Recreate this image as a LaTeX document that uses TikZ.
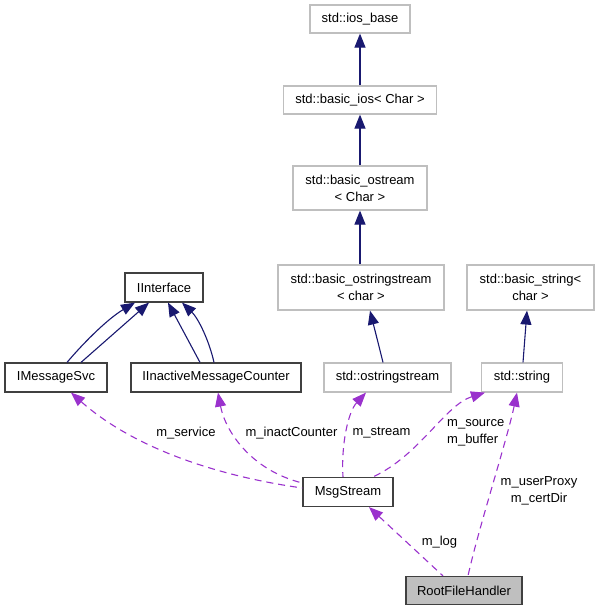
\documentclass[tikz,border=0pt]{standalone}
\usepackage{fontspec}
\setmainfont{Liberation Sans}
\usetikzlibrary{arrows.meta,calc}
\definecolor{edgeblue}{HTML}{191970}
\definecolor{usepurple}{HTML}{9A32CD}
\definecolor{greyb}{HTML}{BFBFBF}
\definecolor{darkb}{HTML}{404040}
\begin{document}
\begin{tikzpicture}[x=1pt,y=-1pt,
  font=\fontsize{13}{17}\selectfont,
  cls/.style={draw, line width=1.2pt, inner sep=0pt, align=center, text=black},
  ext/.style={cls, draw=greyb},
  doc/.style={cls, draw=darkb},
  inh/.style={draw=edgeblue, line width=1.1pt, -{Triangle[length=14pt,width=11pt]}},
  uses/.style={draw=usepurple, line width=1.1pt, dash pattern=on 7pt off 5pt, {Triangle[length=14pt,width=11pt]}-},
  lbl/.style={inner sep=0pt, align=center, text=black}]
\useasboundingbox (0,0) rectangle (599,611);
% nodes
\node[ext, minimum width=100pt, minimum height=28pt] (iosbase) at (360,19) {std::ios\_base};
\node[ext, minimum width=153pt, minimum height=28pt] (bios) at (360,100) {std::basic\_ios< Char >};
\node[ext, minimum width=134pt, minimum height=44pt] (bostream) at (360,188) {std::basic\_ostream\\< Char >};
\node[ext, minimum width=166pt, minimum height=45pt] (boss) at (361,287.5) {std::basic\_ostringstream\\< char >};
\node[ext, minimum width=127pt, minimum height=45pt] (bstring) at (530.5,287.5) {std::basic\_string<\\char >};
\node[doc, minimum width=78pt, minimum height=29pt] (iinterface) at (164,287.5) {IInterface};
\node[doc, minimum width=102pt, minimum height=29pt] (imsgsvc) at (56,377.5) {IMessageSvc};
\node[doc, minimum width=170pt, minimum height=29pt] (iinact) at (216,377.5) {IInactiveMessageCounter};
\node[ext, minimum width=127pt, minimum height=29pt] (oss) at (387.5,377.5) {std::ostringstream};
\node[ext, minimum width=81pt, minimum height=29pt] (string) at (522,377.5) {std::string};
\node[doc, minimum width=90pt, minimum height=29pt] (msg) at (348,492) {MsgStream};
\node[doc, fill=greyb, minimum width=116pt, minimum height=28pt] (root) at (464,590.5) {RootFileHandler};
% inheritance
\draw[inh] (bios.north) -- (iosbase.south);
\draw[inh] (bostream.north) -- (bios.south);
\draw[inh] ($(boss.north)+(-1,0)$) -- (bostream.south);
\draw[inh] ($(oss.north)+(-4.5,0)$) -- ($(boss.south)+(9,0)$);
\draw[inh] ($(string.north)+(1,0)$) -- ($(bstring.south)+(-3.5,0)$);
\draw[inh] ($(imsgsvc.north)+(11,0)$) .. controls (86,340) and (109,318) .. ($(iinterface.south)+(-29,0)$);
\draw[inh] ($(imsgsvc.north)+(25,0)$) -- ($(iinterface.south)+(-15,0)$);
\draw[inh] ($(iinact.north)+(-16,0)$) -- ($(iinterface.south)+(4,0)$);
\draw[inh] ($(iinact.north)+(-2,0)$) .. controls (209,340) and (198,318) .. ($(iinterface.south)+(18,0)$);
% usage
\draw[uses] ($(imsgsvc.south)+(15,0)$) .. controls (130,445) and (210,475) .. ($(msg.west)+(0,-4)$);
\draw[uses] ($(iinact.south)+(2,0)$) .. controls (225,430) and (250,470) .. ($(msg.west)+(0,-9)$);
\draw[uses] ($(oss.south)+(-21.5,0)$) .. controls (348,412) and (341,445) .. ($(msg.north)+(-5,0)$);
\draw[uses] ($(string.south)+(-37,0)$) .. controls (445,405) and (420,455) .. ($(msg.north)+(25,0)$);
\draw[uses] ($(string.south)+(-5,0)$) .. controls (507,440) and (478,530) .. ($(root.north)+(4,0)$);
\draw[uses] ($(msg.south)+(21,0)$) -- ($(root.north)+(-21,0)$);
% labels
\node[lbl] (lservice) at (186,433) {m\_service};
\node[lbl] (linact) at (291.5,433) {m\_inactCounter};
\node[lbl] (lstream) at (381.5,433) {m\_stream};
\node[lbl, align=left, anchor=west] (lsource) at (447,432.5) {m\_source\\m\_buffer};
\node[lbl] (lproxy) at (539,491) {m\_userProxy\\m\_certDir};
\node[lbl] (llog) at (439.5,542) {m\_log};
\end{tikzpicture}
\end{document}
